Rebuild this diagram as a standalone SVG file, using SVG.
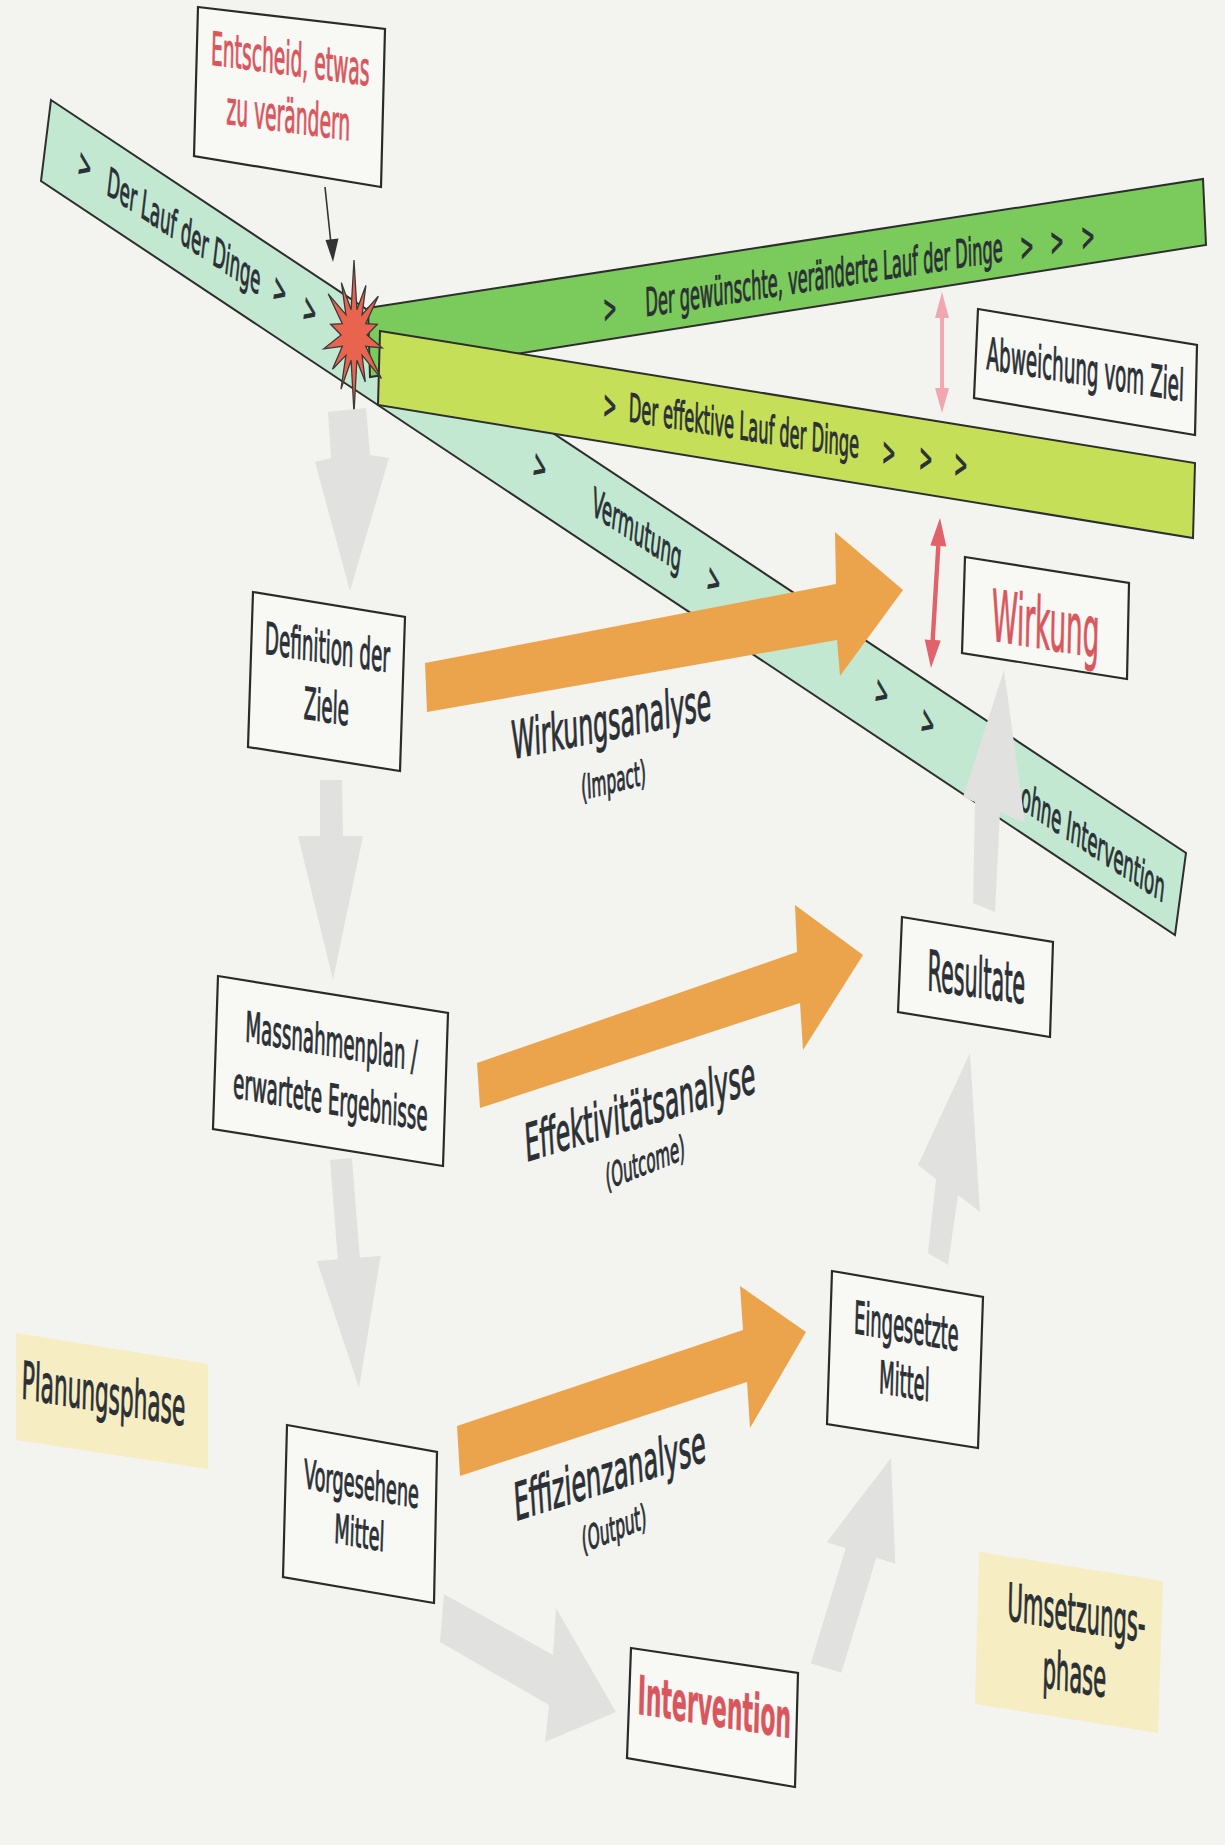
<svg xmlns="http://www.w3.org/2000/svg" width="1225" height="1845" viewBox="0 0 1225 1845">
<style>
.t{font-family:"DejaVu Sans",Verdana,"Liberation Sans",sans-serif;fill:#2b3035;stroke:#2b3035;stroke-width:1.1;text-anchor:middle}
.red{fill:#d9565d;stroke:#d9565d}
.b{font-weight:bold;stroke-width:0.5}
.box{fill:#f8f8f5;stroke:#2a2a2a;stroke-width:2.2;stroke-linejoin:miter}
.phase{fill:#f6edc3}
.band{stroke:#2e2e2e;stroke-width:2;stroke-linejoin:miter}
.grey{fill:#e1e1df}
.orange{fill:#eca44c}
</style>
<rect x="0" y="0" width="1225" height="1845" fill="#f3f3ef"/>

<g id="band-lauf">
<polygon class="band" fill="#c2e8d2" points="51,100 1186,853 1175,935 41,181"/>
<g class="t" font-size="40">
<text transform="translate(85,165) scale(0.417,1) rotate(15.4)" dy="0.35em">&gt;</text>
<text transform="translate(184,231) scale(0.417,1) rotate(15.4)" dy="0.35em">Der Lauf der Dinge</text>
<text transform="translate(280,290) scale(0.417,1) rotate(15.4)" dy="0.35em">&gt;</text>
<text transform="translate(310,310) scale(0.417,1) rotate(15.4)" dy="0.35em">&gt;</text>
<text transform="translate(540,466) scale(0.417,1) rotate(15.4)" dy="0.35em">&gt;</text>
<text transform="translate(637,530) scale(0.417,1) rotate(15.4)" dy="0.35em">Vermutung</text>
<text transform="translate(714,580) scale(0.417,1) rotate(15.4)" dy="0.35em">&gt;</text>
<text transform="translate(882,692) scale(0.417,1) rotate(15.4)" dy="0.35em">&gt;</text>
<text transform="translate(928,722) scale(0.417,1) rotate(15.4)" dy="0.35em">&gt;</text>
<text transform="translate(1093,842) scale(0.417,1) rotate(15.4)" dy="0.35em">ohne Intervention</text>
</g>
</g>

<g id="band-gewuenscht">
<polygon class="band" fill="#7bca5c" points="368,308 1203,179 1206,245 370,377"/>
<g class="t" font-size="39">
<text transform="translate(610,308) scale(0.417,1) rotate(-3.7)" dy="0.35em">&gt;</text>
<text transform="translate(824,275) scale(0.417,1) rotate(-3.7)" dy="0.35em">Der gewünschte, veränderte Lauf der Dinge</text>
<text transform="translate(1027,246) scale(0.417,1) rotate(-3.7)" dy="0.35em">&gt;</text>
<text transform="translate(1057,241) scale(0.417,1) rotate(-3.7)" dy="0.35em">&gt;</text>
<text transform="translate(1088,236) scale(0.417,1) rotate(-3.7)" dy="0.35em">&gt;</text>
</g>
</g>

<g id="band-effektiv">
<polygon class="band" fill="#c6df58" points="380,331 1195,463 1193,538 378,405"/>
<g class="t" font-size="39">
<text transform="translate(610,405) scale(0.417,1) rotate(3.8)" dy="0.35em">&gt;</text>
<text transform="translate(744,426) scale(0.417,1) rotate(3.8)" dy="0.35em">Der effektive Lauf der Dinge</text>
<text transform="translate(889,452) scale(0.417,1) rotate(3.8)" dy="0.35em">&gt;</text>
<text transform="translate(926,458) scale(0.417,1) rotate(3.8)" dy="0.35em">&gt;</text>
<text transform="translate(961,464) scale(0.417,1) rotate(3.8)" dy="0.35em">&gt;</text>
</g>
</g>

<g id="star">
<polygon fill="#e8644f" stroke="#3a3a3a" stroke-width="1.3" stroke-linejoin="miter" transform="translate(3,0)" points="351,260 353.9,309.7 362.9,285.4 359.1,314.7 375.3,296.3 362.7,323.7 374.4,324.3 364,335 379.2,347.9 362.7,346.3 378.4,378.6 359.1,355.3 362.3,381.9 353.9,360.3 351,413 348.1,360.3 338,389.1 342.9,355.3 329.5,369.3 339.3,346.3 320.8,348.8 338,335 327.6,324.3 339.3,323.7 325.2,293.8 342.9,314.7 338.4,282.7 348.1,309.7"/>
</g>

<g id="connectors">
<line x1="325" y1="187" x2="331" y2="244" stroke="#333" stroke-width="1.6"/>
<polygon fill="#333" points="333,262 325.5,240 338.5,238.6"/>
<polygon fill="#f2a7b0" points="942,292 949,318 944,318 944,388 949,388 942,413 935,388 940,388 940,318 935,318"/>
<polygon fill="#e0626b" points="940,518 946.3,546.4 940.5,546.1 934.9,640.1 940.7,640.5 931,668 924.7,639.6 930.5,639.9 936.1,545.9 930.3,545.5"/>
<polygon class="grey" points="328,412 366,408 370,455 389,458 350,591 315,462 331,458"/>
<polygon class="grey" points="320,780 342,780 343,836 363,836 333,980 298,836 320,836"/>
<polygon class="grey" points="330,1160 352,1158 359.8,1257.5 380.7,1255.9 359,1388 316.9,1260.9 337.8,1259.3"/>
<polygon class="grey" points="444,1594 553,1655 556,1608 616,1712 545,1742 549,1705 440,1642"/>
<polygon class="grey" points="841.3,1672.8 876.3,1557.8 895.3,1563.8 891,1458 826.7,1542.2 845.7,1548.2 810.7,1663.2"/>
<polygon class="grey" points="928,1253 936,1179 918,1165 970,1053 980,1212 958,1195 948,1265"/>
<polygon class="grey" points="973,903 975,802 963,797 1004,670 1025,823 1000,812 995,912"/>
<polygon class="orange" points="425,663 836,584 835,532 903,590 840,676 837,640 427,712"/>
<polygon class="orange" points="477,1063 797,952 795,905 863,955 803,1050 800,1003 480,1108"/>
<polygon class="orange" points="457,1426 743,1330 740,1286 806,1332 750,1428 747,1382 460,1476"/>
<g class="t">
<text font-size="52" transform="translate(612,739) scale(0.454,1) rotate(-5.2)">Wirkungsanalyse</text>
<text font-size="34" transform="translate(614,792) scale(0.452,1) rotate(-6.4)">(Impact)</text>
<text font-size="52" transform="translate(641,1127) scale(0.454,1) rotate(-7.8)">Effektivitätsanalyse</text>
<text font-size="34" transform="translate(646,1174) scale(0.442,1) rotate(-9.8)">(Outcome)</text>
<text font-size="52" transform="translate(611,1491) scale(0.463,1) rotate(-8.25)">Effizienzanalyse</text>
<text font-size="34" transform="translate(615,1540) scale(0.452,1) rotate(-10.1)">(Output)</text>
</g>
</g>

<g id="entscheid">
<polygon class="box" points="198,7 385,29 381,187 194,156"/>
<text class="t red" font-size="46" transform="translate(290,75) scale(0.407,1) rotate(3.1)">Entscheid, etwas</text>
<text class="t red" font-size="46" transform="translate(288,132) scale(0.407,1) rotate(3.1)">zu verändern</text>
</g>

<g id="abweichung">
<polygon class="box" points="978,309 1197,345 1195,435 974,398"/>
<text class="t" font-size="44" transform="translate(1085,385) scale(0.417,1) rotate(3.9)">Abweichung vom Ziel</text>
</g>

<g id="wirkung">
<polygon class="box" points="965,557 1129,583 1127,679 962,653"/>
<text class="t red" font-size="71" transform="translate(1045,649) scale(0.37,1) rotate(3.4)">Wirkung</text>
</g>

<g id="definition">
<polygon class="box" points="253,592 405,617 400,771 248,747"/>
<text class="t" font-size="44" transform="translate(327,663) scale(0.417,1) rotate(3.6)">Definition der</text>
<text class="t" font-size="44" transform="translate(326,722) scale(0.417,1) rotate(3.6)">Ziele</text>
</g>

<g id="massnahmen">
<polygon class="box" points="218,976 448,1013 443,1166 213,1129"/>
<text class="t" font-size="42" transform="translate(331,1056) scale(0.435,1) rotate(4.26)">Massnahmenplan /</text>
<text class="t" font-size="42" transform="translate(330,1114) scale(0.435,1) rotate(4.26)">erwartete Ergebnisse</text>
</g>

<g id="resultate">
<polygon class="box" points="902,917 1053,942 1050,1037 898,1012"/>
<text class="t" font-size="56" transform="translate(976,997) scale(0.37,1) rotate(3)">Resultate</text>
</g>

<g id="eingesetzte">
<polygon class="box" points="832,1271 983,1297 978,1448 827,1424"/>
<text class="t" font-size="45" transform="translate(906,1342) scale(0.398,1) rotate(3.9)">Eingesetzte</text>
<text class="t" font-size="45" transform="translate(904,1397) scale(0.398,1) rotate(3.9)">Mittel</text>
</g>

<g id="vorgesehene">
<polygon class="box" points="287,1425 437,1452 434,1603 283,1577"/>
<text class="t" font-size="40" transform="translate(361,1498) scale(0.444,1) rotate(4.5)">Vorgesehene</text>
<text class="t" font-size="40" transform="translate(359,1547) scale(0.444,1) rotate(4.5)">Mittel</text>
</g>

<g id="intervention">
<polygon class="box" points="631,1648 798,1673 795,1787 627,1758"/>
<text class="t red b" font-size="54" transform="translate(714,1726) scale(0.407,1) rotate(3.7)">Intervention</text>
</g>

<g id="planungsphase">
<polygon class="phase" points="16,1333 208,1364 208,1469 16,1440"/>
<text class="t" font-size="52" transform="translate(103,1412) scale(0.417,1) rotate(4)">Planungsphase</text>
</g>

<g id="umsetzungsphase">
<polygon class="phase" points="979,1552 1163,1581 1158,1733 975,1704"/>
<text class="t" font-size="52" transform="translate(1076,1631) scale(0.407,1) rotate(3.7)">Umsetzungs-</text>
<text class="t" font-size="52" transform="translate(1074,1692) scale(0.407,1) rotate(3.7)">phase</text>
</g>
</svg>
